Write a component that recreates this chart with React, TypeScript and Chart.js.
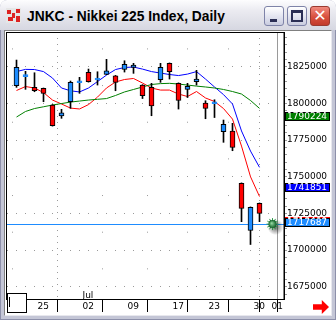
import React, { useEffect, useRef } from "react";
import { Chart, registerables } from "chart.js";

Chart.register(...registerables);

// ---- data ----
const dates = ["06/21","06/22","06/25","06/26","06/27","06/28","06/29","07/02","07/03","07/04","07/05","07/06","07/09","07/10","07/11","07/12","07/13","07/17","07/18","07/19","07/20","07/23","07/24","07/25","07/26","07/27","07/30","07/31"];
const opens = [1812050,1818300,1810960,1810270,1798900,1791500,1801140,1814100,1821180,1816000,1819820,1818860,1823230,1824590,1812520,1810960,1816140,1827320,1813680,1809590,1814800,1800250,1799800,1780680,1781160,1745500,1713320,1731870];
const highs = [1829570,1821860,1820910,1810500,1799200,1795960,1815250,1817770,1823430,1821590,1830050,1819100,1829090,1827320,1812800,1813680,1827320,1827600,1814000,1813680,1822550,1801820,1802500,1788660,1786410,1745800,1729400,1732100];
const lows = [1810950,1809590,1807950,1801140,1784500,1789820,1796640,1806860,1814500,1812520,1819600,1808640,1821390,1820500,1803320,1791590,1814360,1816610,1796160,1804000,1812520,1789550,1790360,1773460,1767730,1719320,1703770,1719320];
const closes = [1824590,1819600,1808640,1806860,1784800,1793500,1814360,1815400,1814770,1817300,1822270,1814360,1826640,1826160,1805230,1798200,1824590,1821590,1801960,1811640,1816600,1796640,1801100,1785730,1769910,1728460,1729140,1725050];
const maShort = [1808800,1811500,1810500,1807400,1802300,1799600,1796800,1796200,1799200,1804300,1810500,1814600,1816300,1817000,1813900,1810500,1809100,1809100,1806400,1804700,1808100,1803700,1801300,1796500,1789300,1770900,1750000,1736500];
const maMid = [1821700,1823200,1823100,1821700,1817300,1810500,1808600,1807800,1810500,1814900,1819300,1823100,1824500,1824800,1823400,1821700,1820700,1819700,1819000,1820000,1821700,1816600,1811200,1806000,1799600,1781200,1767500,1756400];
const maLong = [1790700,1794500,1796500,1797700,1798900,1799900,1800900,1801600,1802300,1802800,1803300,1805400,1807800,1809500,1811200,1812900,1813500,1813700,1813200,1812500,1811800,1811200,1810500,1809500,1808100,1806400,1802000,1796600];

const lastPrice = 1717687;
const maShortNow = 1718400;
const maMidNow = 1741851;
const maLongNow = 1790224;

const tickSlots = [2, 7, 12, 17, 21, 26, 28];
const tickDays = ["25", "02", "09", "17", "23", "30", "01"];
const tickMonths = ["", "Jul", "", "", "", "", ""];
const monthSlots = [7, 28];
const currentSlot = 28;

const yMin = 1666600;
const yMax = 1848700;
const yMajor = 25000;
const yMinor = 5000;
const xMin = -1.0556;
const xMax = 29.7222;

const UP = "#1e8cff";
const DOWN = "#ff0000";
const AXIS_FONT = "DejaVu Sans";

const overlay = {
  id: "overlay",
  beforeDatasetsDraw(chart: any) {
    const { ctx, chartArea, scales } = chart;
    const y = Math.round(scales.y.getPixelForValue(lastPrice)) + 0.5;
    ctx.save();
    ctx.strokeStyle = UP;
    ctx.lineWidth = 1;
    ctx.beginPath();
    ctx.moveTo(chartArea.left, y);
    ctx.lineTo(chartArea.right, y);
    ctx.stroke();
    ctx.restore();
  },
  afterDraw(chart: any) {
    const { ctx, chartArea, scales } = chart;
    ctx.save();
    ctx.strokeStyle = "#000";
    ctx.lineWidth = 1;
    ctx.strokeRect(chartArea.left - 0.5, chartArea.top + 0.5, chartArea.right - chartArea.left + 0.5, chartArea.bottom - chartArea.top);
    const boxes: [number, string, string][] = [
      [maShortNow, "#ff0000", "#ff0000"],
      [maMidNow, "#0000ff", "#000"],
      [maLongNow, "#008000", "#000"],
      [lastPrice, UP, "#000"],
    ];
    ctx.font = `9px '${AXIS_FONT}'`;
    ctx.textBaseline = "middle";
    ctx.textAlign = "left";
    for (const [v, fill, edge] of boxes) {
      const yc = Math.round(scales.y.getPixelForValue(v));
      const top = yc - 6;
      const x0 = Math.round(chartArea.right) + 1;
      ctx.fillStyle = fill;
      ctx.fillRect(x0, top, 45, 9);
      ctx.strokeStyle = edge;
      ctx.strokeRect(x0 + 0.5, top + 0.5, 44, 8);
      ctx.fillStyle = "#fff";
      ctx.fillText(String(v), x0 + 2, top + 5);
    }
    const sx = scales.x.getPixelForValue(currentSlot) + 4;
    const sy = scales.y.getPixelForValue(lastPrice);
    const sh = ctx.createRadialGradient(sx + 3, sy + 3, 0, sx + 3, sy + 3, 8);
    sh.addColorStop(0, "rgba(0,0,0,0.6)");
    sh.addColorStop(1, "rgba(0,0,0,0)");
    ctx.fillStyle = sh;
    ctx.beginPath();
    ctx.arc(sx + 3, sy + 3, 8, 0, Math.PI * 2);
    ctx.fill();
    ctx.strokeStyle = "#2f9a4a";
    ctx.lineWidth = 1;
    for (let k = 0; k < 12; k++) {
      const a = (k * Math.PI) / 6;
      ctx.beginPath();
      ctx.moveTo(sx, sy);
      ctx.lineTo(sx + Math.cos(a) * 6, sy + Math.sin(a) * 6);
      ctx.stroke();
    }
    const g = ctx.createRadialGradient(sx - 1, sy - 1, 0, sx, sy, 4);
    g.addColorStop(0, "#9be0a8");
    g.addColorStop(1, "#0b5a22");
    ctx.fillStyle = g;
    ctx.beginPath();
    ctx.arc(sx, sy, 4, 0, Math.PI * 2);
    ctx.fill();
    ctx.restore();
  },
};

export default function App() {
  const canvasRef = useRef<HTMLCanvasElement>(null);

  useEffect(() => {
    const canvas = canvasRef.current;
    if (!canvas) return;
    const slots = closes.map((_, i) => i);
    const chart = new Chart(canvas, {
      type: "bar",
      data: {
        labels: dates,
        datasets: [
          {
            type: "bar",
            label: "wick",
            data: slots.map((i) => ({ x: i, y: [lows[i], highs[i]] })) as any,
            backgroundColor: "#000",
            borderWidth: 0,
            barThickness: 1,
            grouped: false,
            order: 1,
          } as any,
          {
            type: "bar",
            label: "body",
            data: slots.map((i) => ({ x: i, y: [opens[i], closes[i]] })) as any,
            backgroundColor: slots.map((i) => (closes[i] >= opens[i] ? UP : DOWN)),
            borderColor: slots.map((i) =>
              Math.abs(closes[i] - opens[i]) < 1500 ? (closes[i] >= opens[i] ? UP : DOWN) : "#000"
            ),
            borderWidth: 1,
            borderSkipped: false,
            barThickness: 5,
            grouped: false,
            order: 0,
          } as any,
          {
            type: "line",
            label: "MA long",
            data: slots.map((i) => ({ x: i, y: maLong[i] })),
            borderColor: "#008000",
            borderWidth: 1,
            pointRadius: 0,
            tension: 0,
            order: 2,
          } as any,
          {
            type: "line",
            label: "MA mid",
            data: slots.map((i) => ({ x: i, y: maMid[i] })),
            borderColor: "#0000ff",
            borderWidth: 1,
            pointRadius: 0,
            tension: 0,
            order: 2,
          } as any,
          {
            type: "line",
            label: "MA short",
            data: slots.map((i) => ({ x: i, y: maShort[i] })),
            borderColor: "#ff0000",
            borderWidth: 1,
            pointRadius: 0,
            tension: 0,
            order: 2,
          } as any,
        ],
      },
      options: {
        animation: false,
        responsive: false,
        events: [],
        layout: { padding: { left: 7, top: 32, right: 0, bottom: 0 } },
        plugins: { legend: { display: false }, tooltip: { enabled: false } },
        scales: {
          x: {
            type: "linear",
            position: "bottom",
            min: xMin,
            max: xMax,
            offset: false,
            afterBuildTicks: (s: any) => {
              s.ticks = tickSlots.map((v) => ({ value: v }));
            },
            afterFit: (s: any) => {
              s.height = 21;
              s.paddingLeft = 0;
              s.paddingRight = 0;
            },
            ticks: {
              autoSkip: false,
              maxRotation: 0,
              minRotation: 0,
              align: "start",
              mirror: true,
              labelOffset: 3,
              padding: -2,
              color: "#000",
              font: { family: AXIS_FONT, size: 9, lineHeight: "11px" },
              callback: (v: any) => {
                const k = tickSlots.indexOf(v);
                return k >= 0 ? [tickMonths[k], tickDays[k]] : "";
              },
            },
            grid: {
              drawOnChartArea: true,
              drawTicks: true,
              tickLength: 13,
              tickColor: "#000",
              tickWidth: 1,
              lineWidth: 1,
              color: "#9a9a9a",
            },
            border: {
              display: true,
              color: "#000",
              width: 1,
              dash: (c: any) => {
                if (!c.tick) return [];
                if (monthSlots.includes(c.tick.value)) return [1, 5];
                const ys = c.chart.scales.y;
                const sp = Math.abs(ys.getPixelForValue(0) - ys.getPixelForValue(yMajor));
                return [1, sp - 1];
              },
              dashOffset: (c: any) => {
                if (!c.tick || monthSlots.includes(c.tick.value)) return 0;
                const ys = c.chart.scales.y;
                const sp = Math.abs(ys.getPixelForValue(0) - ys.getPixelForValue(yMajor));
                const d = ys.getPixelForValue(1837500) - c.chart.chartArea.top;
                return sp - d;
              },
            },
          } as any,
          y: {
            type: "linear",
            position: "right",
            min: yMin,
            max: yMax,
            afterBuildTicks: (s: any) => {
              const t: any[] = [];
              for (let v = Math.ceil(yMin / yMinor) * yMinor; v <= yMax; v += yMinor) t.push({ value: v });
              s.ticks = t;
            },
            afterFit: (s: any) => {
              s.width = 52;
              s.paddingTop = 0;
              s.paddingBottom = 0;
            },
            ticks: {
              autoSkip: false,
              padding: 0,
              color: "#000",
              font: { family: AXIS_FONT, size: 9 },
              callback: (v: any) => (v % yMajor === 0 ? String(v) : ""),
            },
            grid: {
              drawTicks: true,
              tickLength: 3,
              tickColor: "#9a9a9a",
              lineWidth: 1,
              color: (c: any) => (c.tick && c.tick.value % yMajor === 0 ? "#9a9a9a" : "rgba(0,0,0,0)"),
            },
            border: { display: true, color: "#000", width: 1, dash: [1, 8] },
          } as any,
        },
      },
      plugins: [overlay],
    });
    return () => chart.destroy();
  }, []);

  const btn = (left: number, extra: any, children: any) => (
    <div
      style={{
        position: "absolute",
        left,
        top: 6,
        width: 20,
        height: 20,
        borderRadius: 3,
        boxSizing: "border-box",
        ...extra,
      }}
    >
      {children}
    </div>
  );

  return (
    <div style={{ position: "fixed", left: 0, top: 0, width: 336, height: 320, overflow: "hidden", background: "#c4c6d6", borderRadius: "7px 7px 0 0" }}>
      <div style={{ position: "absolute", left: 0, top: 30, width: 1, height: 290, background: "#8d90aa" }} />
      <div style={{ position: "absolute", left: 335, top: 30, width: 1, height: 290, background: "#8d90aa" }} />
      <div style={{ position: "absolute", left: 0, top: 319, width: 336, height: 1, background: "#8d90aa" }} />
      <div style={{ position: "absolute", left: 0, top: 0, width: 336, height: 30, background: "linear-gradient(#fdfdfe, #ebebf1 35%, #d6d7e1)", borderRadius: "7px 7px 0 0" }} />
      <div style={{ position: "absolute", left: 6, top: 8, width: 15, height: 15, background: "#e6e6e6" }}>
        <div style={{ position: "absolute", left: 1, top: 2, width: 4, height: 4, background: "#d22" }} />
        <div style={{ position: "absolute", left: 6, top: 5, width: 3, height: 5, background: "#d22" }} />
        <div style={{ position: "absolute", left: 10, top: 1, width: 4, height: 4, background: "#d22" }} />
        <div style={{ position: "absolute", left: 2, top: 9, width: 5, height: 4, background: "#d22" }} />
        <div style={{ position: "absolute", left: 10, top: 8, width: 4, height: 6, background: "#d22" }} />
      </div>
      <div style={{ position: "absolute", left: 27, top: 10, fontFamily: "'Liberation Sans', Arial, sans-serif", fontWeight: 700, fontSize: 13.8, lineHeight: "14px", color: "#000", whiteSpace: "nowrap" }}>
        JNKC - Nikkei 225 Index, Daily
      </div>
      {btn(264, { background: "linear-gradient(#ffffff, #dfe1ee 60%, #c9ccdf)", border: "1px solid #7e83a8" },
        <div style={{ position: "absolute", left: 5, top: 12, width: 7, height: 3, background: "#2b2f55" }} />)}
      {btn(287, { background: "linear-gradient(#ffffff, #dfe1ee 60%, #c9ccdf)", border: "1px solid #7e83a8" },
        <div style={{ position: "absolute", left: 3, top: 3, width: 12, height: 12, boxSizing: "border-box", border: "2px solid #2b2f55", borderTopWidth: 3 }} />)}
      {btn(310, { background: "linear-gradient(#f08a7e, #d9503e 55%, #c23a2a)", border: "1px solid #9a3a30" },
        <div style={{ position: "absolute", left: 0, top: 0, width: 18, height: 18, color: "#fff", fontFamily: "'DejaVu Sans', sans-serif", fontWeight: 700, fontSize: 16, lineHeight: "18px", textAlign: "center" }}>✕</div>)}
      <div style={{ position: "absolute", left: 4, top: 30, width: 328, height: 286, boxSizing: "border-box", background: "#fff", borderLeft: "1px solid #808080", borderTop: "1px solid #808080", borderRight: "1px solid #e8e8ee", borderBottom: "1px solid #e8e8ee" }} />
      <canvas ref={canvasRef} width={336} height={320} style={{ position: "absolute", left: 0, top: 0, width: 336, height: 320, display: "block" }} />
      <div style={{ position: "absolute", left: 7, top: 293, width: 20, height: 20, boxSizing: "border-box", border: "1px solid #000", background: "#fff" }}>
        <div style={{ position: "absolute", left: 1, top: 3, width: 1, height: 10, background: "#000" }} />
      </div>
      <div style={{ position: "absolute", left: 313, top: 300, width: 16, height: 14, background: "#ff0000", clipPath: "polygon(0 30%, 55% 30%, 55% 0, 100% 50%, 55% 100%, 55% 70%, 0 70%)" }} />
    </div>
  );
}
